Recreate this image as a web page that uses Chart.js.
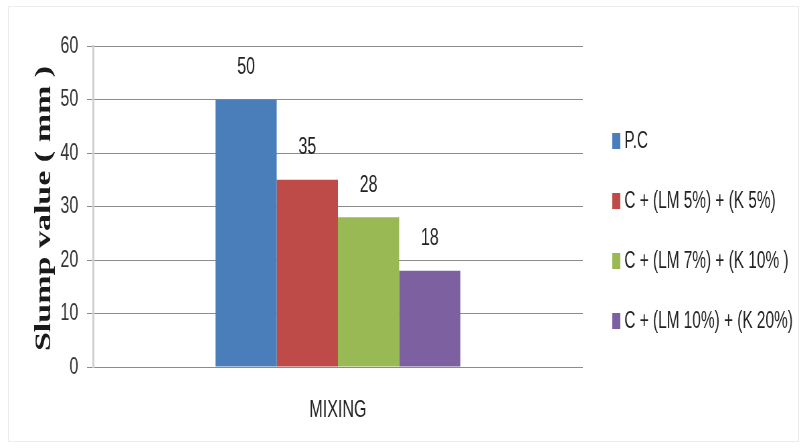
<!DOCTYPE html>
<html>
<head>
<meta charset="utf-8">
<script src="https://cdn.jsdelivr.net/npm/chart.js@4/dist/chart.umd.min.js"></script>
<style>
  html, body { margin: 0; padding: 0; background: #fff; overflow: hidden; }
  #wrap { position: relative; width: 803px; height: 448px; overflow: hidden; }
  /* the chart is laid out wide and then narrowed, giving the tall condensed lettering */
  #stretch { width: 1200px; height: 448px; transform: scaleX(0.669167); transform-origin: 0 0; }
  #frame { position: absolute; left: 8px; top: 6px; right: 4px; bottom: 6px; border: 1px solid #ececec; pointer-events: none; }
</style>
</head>
<body>
<div id="wrap">
  <div id="stretch"><canvas id="chart" width="1200" height="448"></canvas></div>
  <div id="frame"></div>
</div>
<script>
const categories = ['MIXING'];
const seriesNames = ['P.C', 'C + (LM 5%) + (K 5%)', 'C + (LM 7%) + (K 10% )', 'C + (LM 10%) + (K 20%)'];
const slumpValues = [50, 35, 28, 18];
const seriesColors = ['#4a7ebb', '#be4b48', '#98b954', '#7d60a0'];
const yTicks = [0, 10, 20, 30, 40, 50, 60];
const yTitle = 'Slump value ( mm )';

const sans = '"Liberation Sans", Arial, sans-serif';

// value labels above each bar
const barValues = {
  id: 'barValues',
  afterDatasetsDraw(chart) {
    const ctx = chart.ctx;
    ctx.save();
    ctx.font = '24px ' + sans;
    ctx.fillStyle = '#222';
    ctx.textAlign = 'center';
    ctx.textBaseline = 'middle';
    chart.data.datasets.forEach((ds, i) => {
      const meta = chart.getDatasetMeta(i);
      meta.data.forEach((bar, j) => {
        ctx.fillText(String(ds.data[j]), bar.x, bar.y - 32);
      });
    });
    ctx.restore();
  }
};

// bold axis title, rotated, left of the tick labels
const axisTitle = {
  id: 'axisTitle',
  afterDraw(chart) {
    const ctx = chart.ctx;
    const area = chart.chartArea;
    ctx.save();
    ctx.translate(66, (area.top + area.bottom) / 2 + 2);
    ctx.rotate(-Math.PI / 2);
    ctx.font = 'bold 34px "Liberation Serif", serif';
    ctx.fillStyle = '#1a1a1a';
    ctx.textAlign = 'center';
    ctx.textBaseline = 'middle';
    ctx.fillText(yTitle, 0, 0);
    ctx.restore();
  }
};

// legend on the right, one row per series
const sideLegend = {
  id: 'sideLegend',
  afterDraw(chart) {
    const ctx = chart.ctx;
    const x0 = chart.chartArea.right + 44;
    const y0 = 141, step = 60;
    ctx.save();
    ctx.font = '23px ' + sans;
    ctx.textBaseline = 'middle';
    chart.data.datasets.forEach((ds, i) => {
      const y = y0 + i * step;
      ctx.fillStyle = ds.backgroundColor;
      ctx.fillRect(x0, y - 8, 12, 16);
      ctx.fillStyle = '#222';
      ctx.fillText(ds.label, x0 + 18, y + 1);
    });
    ctx.restore();
  }
};

new Chart(document.getElementById('chart'), {
  type: 'bar',
  data: {
    labels: categories,
    datasets: seriesNames.map((name, i) => ({
      label: name,
      data: [slumpValues[i]],
      backgroundColor: seriesColors[i],
      borderWidth: 0
    }))
  },
  options: {
    responsive: false,
    animation: false,
    devicePixelRatio: 1,
    layout: { padding: { top: 46, left: 0, right: 329, bottom: 0 } },
    datasets: { bar: { categoryPercentage: 0.5, barPercentage: 1.0 } },
    plugins: {
      legend: { display: false },
      tooltip: { enabled: false }
    },
    scales: {
      x: {
        afterFit: scale => { scale.height = 81; },
        grid: { display: false },
        border: { display: false },
        ticks: { font: { family: sans, size: 24 }, color: '#222', padding: 21 }
      },
      y: {
        min: 0,
        max: 60,
        afterBuildTicks: scale => { scale.ticks = yTicks.map(v => ({ value: v })); },
        afterFit: scale => { scale.width = 139; },
        grid: { color: '#8c8c8c', tickLength: 9, lineWidth: 1 },
        border: { color: '#d0d0d0', width: 3 },
        ticks: { font: { family: sans, size: 24 }, color: '#333', padding: 13 }
      }
    }
  },
  plugins: [barValues, axisTitle, sideLegend]
});
</script>
</body>
</html>
